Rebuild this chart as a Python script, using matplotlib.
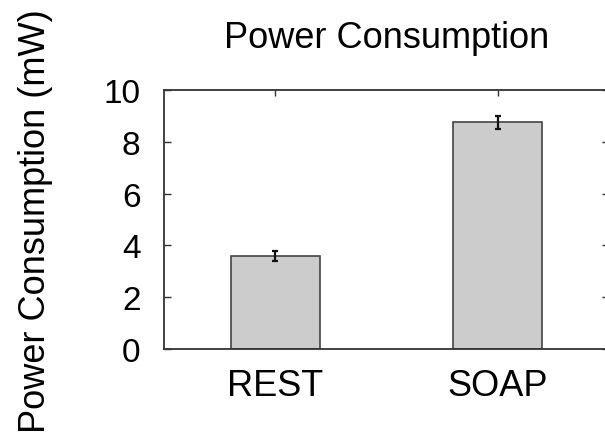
import matplotlib
matplotlib.use("Agg")
import matplotlib.pyplot as plt

plt.rcParams['font.family'] = ['Liberation Sans', 'DejaVu Sans']

protocols = ['REST', 'SOAP']
power_mw = [3.6, 8.75]
power_err = [0.2, 0.25]

W, H = 605, 439
fig = plt.figure(figsize=(W / 100, H / 100), dpi=100)
# axes frame: left 164px, right ~609px (slightly past the image edge), top 91px, bottom 350px
ax = fig.add_axes([164 / W, (H - 350) / H, (609 - 164) / W, (350 - 91) / H])

x = list(range(len(protocols)))
ax.bar(x, power_mw, width=0.4, color='#cccccc', edgecolor='#444444', linewidth=1.2, zorder=2)
ax.errorbar(x, power_mw, yerr=power_err, fmt='none', ecolor='#111111',
            elinewidth=1.6, capsize=2.5, capthick=1.6, zorder=3)

ax.set_xlim(-0.5, 1.5)
ax.set_ylim(0, 10)
ax.set_yticks([0, 2, 4, 6, 8, 10])
ax.set_xticks(x)
ax.set_xticklabels(protocols)

for s in ax.spines.values():
    s.set_linewidth(1.3)
    s.set_color('#333333')

ax.tick_params(axis='y', direction='in', length=5, width=1, left=True, right=True,
               labelsize=24, pad=17, color='#333333')
ax.tick_params(axis='x', direction='in', length=4, width=1, bottom=False, top=True,
               labelsize=26, pad=14, color='#333333')

ax.set_title('Power Consumption', fontsize=26, pad=31)
fig.text(36 / W, (H - 221) / H, 'Power Consumption (mW)', rotation=90,
         ha='center', va='center', fontsize=26)

fig.savefig('out.png', dpi=100)
